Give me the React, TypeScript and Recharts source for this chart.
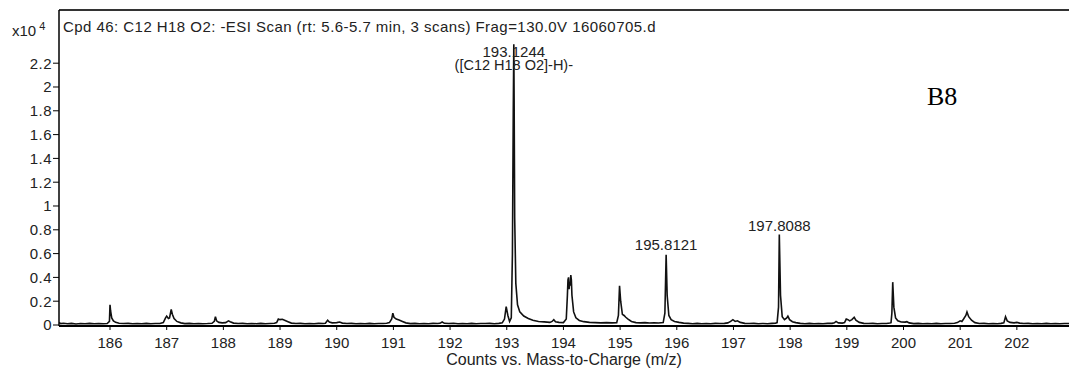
import { LineChart, Line, XAxis, YAxis, ReferenceLine, ReferenceDot, Label } from "recharts";

// m/z, counts (x10^4) — profile points of the -ESI scan
const scan185to187: [number, number][] = [
  [185.1, 0.02], [185.13, 0.012], [185.18, 0.015], [185.25, 0.01], [185.32, 0.014],
  [185.4, 0.009], [185.48, 0.013], [185.56, 0.01], [185.64, 0.014], [185.72, 0.011],
  [185.8, 0.013], [185.88, 0.01], [185.95, 0.012], [185.99, 0.03], [186.0, 0.17],
  [186.01, 0.12], [186.03, 0.06], [186.06, 0.035], [186.1, 0.022], [186.16, 0.015],
  [186.24, 0.012], [186.32, 0.014], [186.4, 0.01], [186.48, 0.013], [186.56, 0.011],
  [186.64, 0.014], [186.72, 0.01], [186.8, 0.013], [186.88, 0.012], [186.94, 0.02],
  [186.98, 0.06], [187.0, 0.075], [187.03, 0.055], [187.05, 0.06], [187.08, 0.13],
  [187.1, 0.09], [187.13, 0.055], [187.18, 0.03], [187.25, 0.018], [187.32, 0.012],
  [187.4, 0.014], [187.48, 0.01], [187.56, 0.013], [187.64, 0.011], [187.72, 0.012],
];

const scan187to190: [number, number][] = [
  [187.8, 0.014], [187.84, 0.03], [187.86, 0.07], [187.88, 0.035], [187.92, 0.022],
  [187.98, 0.018], [188.04, 0.02], [188.09, 0.035], [188.12, 0.028], [188.18, 0.016],
  [188.26, 0.012], [188.34, 0.014], [188.42, 0.01], [188.5, 0.013], [188.58, 0.011],
  [188.66, 0.014], [188.74, 0.01], [188.82, 0.013], [188.9, 0.015], [188.94, 0.02],
  [188.97, 0.05], [189.0, 0.045], [189.04, 0.048], [189.08, 0.04], [189.14, 0.028],
  [189.2, 0.016], [189.28, 0.012], [189.36, 0.014], [189.44, 0.01], [189.52, 0.013],
  [189.6, 0.011], [189.68, 0.014], [189.76, 0.012], [189.8, 0.014], [189.84, 0.04],
  [189.87, 0.025], [189.92, 0.018], [190.0, 0.02], [190.05, 0.025], [190.1, 0.016],
  [190.18, 0.012], [190.26, 0.014], [190.34, 0.01], [190.42, 0.013], [190.5, 0.011],
  [190.58, 0.014], [190.66, 0.01], [190.74, 0.013], [190.82, 0.012], [190.88, 0.015],
];

const scan191to194: [number, number][] = [
  [190.93, 0.02], [190.97, 0.05], [190.99, 0.1], [191.01, 0.065], [191.05, 0.05],
  [191.1, 0.042], [191.16, 0.03], [191.22, 0.018], [191.3, 0.012], [191.38, 0.014],
  [191.46, 0.01], [191.54, 0.013], [191.62, 0.011], [191.7, 0.014], [191.78, 0.012],
  [191.82, 0.014], [191.86, 0.025], [191.9, 0.014], [191.98, 0.012], [192.06, 0.015],
  [192.14, 0.01], [192.22, 0.013], [192.3, 0.011], [192.38, 0.014], [192.46, 0.01],
  [192.54, 0.013], [192.62, 0.012], [192.7, 0.014], [192.78, 0.011], [192.86, 0.014],
  [192.92, 0.018], [192.96, 0.05], [192.99, 0.155], [193.02, 0.08], [193.05, 0.03],
  [193.08, 0.06], [193.1, 0.6], [193.115, 1.8], [193.1244, 2.36], [193.13, 1.9],
  [193.14, 0.9], [193.16, 0.35], [193.19, 0.17], [193.23, 0.11], [193.3, 0.075],
  [193.38, 0.055], [193.46, 0.04], [193.56, 0.03], [193.66, 0.026], [193.76, 0.022],
  [193.8, 0.03], [193.83, 0.045], [193.86, 0.028], [193.92, 0.022], [194.0, 0.02],
  [194.05, 0.05], [194.07, 0.25], [194.08, 0.38], [194.09, 0.4], [194.1, 0.3],
  [194.11, 0.36], [194.12, 0.33], [194.13, 0.42], [194.14, 0.38], [194.15, 0.25],
  [194.18, 0.11], [194.22, 0.06], [194.28, 0.038], [194.36, 0.028],
  [194.46, 0.022], [194.56, 0.02], [194.66, 0.018], [194.76, 0.02], [194.86, 0.018],
];

const scan195to198: [number, number][] = [
  [194.94, 0.02], [194.97, 0.08], [194.99, 0.33], [195.01, 0.2], [195.04, 0.09],
  [195.07, 0.08], [195.1, 0.065], [195.14, 0.05], [195.2, 0.03], [195.28, 0.02],
  [195.36, 0.018], [195.44, 0.02], [195.52, 0.017], [195.6, 0.019], [195.68, 0.017],
  [195.76, 0.02], [195.79, 0.1], [195.8121, 0.59], [195.83, 0.25], [195.86, 0.08],
  [195.9, 0.045], [195.96, 0.03], [196.04, 0.022], [196.12, 0.016], [196.2, 0.014],
  [196.28, 0.011], [196.36, 0.014], [196.44, 0.01], [196.52, 0.013], [196.6, 0.011],
  [196.68, 0.014], [196.76, 0.012], [196.84, 0.014], [196.9, 0.018], [196.95, 0.03],
  [196.99, 0.045], [197.03, 0.03], [197.07, 0.035], [197.12, 0.022], [197.2, 0.014],
  [197.28, 0.012], [197.36, 0.014], [197.44, 0.01], [197.52, 0.013], [197.6, 0.011],
  [197.68, 0.014], [197.74, 0.015], [197.77, 0.02], [197.795, 0.15], [197.8088, 0.76],
  [197.83, 0.25], [197.86, 0.07], [197.9, 0.045], [197.94, 0.06], [197.96, 0.075],
  [197.99, 0.045], [198.04, 0.028], [198.1, 0.02], [198.18, 0.014], [198.26, 0.011],
  [198.34, 0.014], [198.42, 0.01], [198.5, 0.013], [198.58, 0.011], [198.66, 0.014],
];

const scan198to203: [number, number][] = [
  [198.74, 0.014], [198.78, 0.018], [198.81, 0.03], [198.85, 0.018], [198.92, 0.016],
  [198.96, 0.02], [198.99, 0.05], [199.02, 0.045], [199.05, 0.035], [199.09, 0.045],
  [199.13, 0.065], [199.16, 0.04], [199.22, 0.022], [199.3, 0.014], [199.38, 0.012],
  [199.46, 0.014], [199.54, 0.01], [199.62, 0.013], [199.7, 0.012], [199.76, 0.016],
  [199.78, 0.02], [199.795, 0.1], [199.81, 0.36], [199.83, 0.15], [199.86, 0.06],
  [199.9, 0.035], [199.96, 0.025], [200.03, 0.024], [200.06, 0.028], [200.1, 0.018],
  [200.18, 0.012], [200.26, 0.014], [200.34, 0.01], [200.42, 0.013], [200.5, 0.011],
  [200.58, 0.014], [200.66, 0.01], [200.74, 0.013], [200.82, 0.012], [200.9, 0.015],
  [200.95, 0.02], [201.0, 0.035], [201.03, 0.03], [201.06, 0.05], [201.1, 0.08],
  [201.12, 0.11], [201.15, 0.07], [201.2, 0.04], [201.26, 0.02], [201.34, 0.013],
  [201.42, 0.014], [201.5, 0.01], [201.58, 0.013], [201.66, 0.011], [201.72, 0.014],
  [201.77, 0.018], [201.8, 0.07], [201.83, 0.035], [201.88, 0.022], [201.95, 0.018],
  [202.0, 0.022], [202.05, 0.016], [202.12, 0.012], [202.2, 0.014], [202.28, 0.01],
  [202.36, 0.013], [202.44, 0.011], [202.52, 0.014], [202.6, 0.01], [202.68, 0.013],
  [202.76, 0.011], [202.84, 0.013], [202.92, 0.012],
];

const xTicks = [186, 187, 188, 189, 190, 191, 192, 193, 194, 195, 196, 197, 198, 199, 200, 201, 202];
const yTicks = [0, 0.2, 0.4, 0.6, 0.8, 1, 1.2, 1.4, 1.6, 1.8, 2, 2.2];

const spectrum = [...scan185to187, ...scan187to190, ...scan191to194, ...scan195to198, ...scan198to203].map(
  ([mz, counts]) => ({ mz, counts })
);

const FONT = "'Liberation Sans', Arial, sans-serif";
const TEXT = "#222";

// peak annotation: text lines stacked from the peak apex
const peakLabel = (lines: string[], dy: number) => (props: any) => {
  const vb = props.viewBox || {};
  const cx = (vb.x ?? 0) + (vb.width ?? 0) / 2;
  const cy = (vb.y ?? 0) + (vb.height ?? 0) / 2;
  return (
    <g>
      {lines.map((t, i) => (
        <text
          key={i}
          x={cx}
          y={cy + dy + i * 13}
          textAnchor="middle"
          fontFamily={FONT}
          fontSize={i === 0 ? 15 : 14.5}
          fill={TEXT}
        >
          {t}
        </text>
      ))}
    </g>
  );
};

export default function App() {
  return (
    <div style={{ position: "absolute", left: 0, top: 0, width: 1069, height: 371, background: "#fff" }}>
      <LineChart width={1069} height={371} data={spectrum} margin={{ top: 10, right: 0, bottom: 0, left: 0 }}>
        <XAxis
          dataKey="mz"
          type="number"
          domain={[185.1, 202.92]}
          ticks={xTicks}
          allowDataOverflow
          height={45}
          tickSize={4}
          tickMargin={7}
          axisLine={{ stroke: "#000", strokeWidth: 2 }}
          tickLine={{ stroke: "#000" }}
          tick={{ fontFamily: FONT, fontSize: 15, fill: TEXT }}
        >
          <Label
            value="Counts vs. Mass-to-Charge (m/z)"
            position="insideBottom"
            offset={6}
            style={{ fontFamily: FONT, fontSize: 16, fill: TEXT }}
          />
        </XAxis>
        <YAxis
          type="number"
          domain={[-0.0084, 2.647]}
          ticks={yTicks}
          allowDataOverflow
          width={59}
          tickSize={6}
          tickMargin={1}
          axisLine={{ stroke: "#000", strokeWidth: 1.5 }}
          tickLine={{ stroke: "#000" }}
          tick={{ fontFamily: FONT, fontSize: 15, fill: TEXT, letterSpacing: 0.5 }}
        />
        <ReferenceLine y={2.647} stroke="#333" strokeWidth={2} />
        <Line
          type="linear"
          dataKey="counts"
          stroke="#111"
          strokeWidth={1.6}
          dot={false}
          isAnimationActive={false}
        />
        <ReferenceDot x={193.1244} y={2.36} r={0} label={{ content: peakLabel(["193.1244", "([C12 H18 O2]-H)-"], 13) }} />
        <ReferenceDot x={195.8121} y={0.59} r={0} label={{ content: peakLabel(["195.8121"], -5) }} />
        <ReferenceDot x={197.8088} y={0.76} r={0} label={{ content: peakLabel(["197.8088"], -4) }} />
      </LineChart>
      <div style={{ position: "absolute", left: 12, top: 19, fontFamily: FONT, fontSize: 15, color: TEXT, lineHeight: "15px" }}>
        x10<sup style={{ fontSize: 11, marginLeft: 3 }}>4</sup>
      </div>
      <div style={{ position: "absolute", left: 63, top: 19, fontFamily: FONT, fontSize: 15, letterSpacing: 0.45, color: TEXT, lineHeight: "15px", whiteSpace: "nowrap" }}>
        Cpd 46: C12 H18 O2: -ESI Scan (rt: 5.6-5.7 min, 3 scans) Frag=130.0V 16060705.d
      </div>
      <div style={{ position: "absolute", left: 927, top: 84, fontFamily: "'Liberation Serif', 'Times New Roman', serif", fontSize: 26, color: "#000", lineHeight: "26px" }}>
        B8
      </div>
    </div>
  );
}
